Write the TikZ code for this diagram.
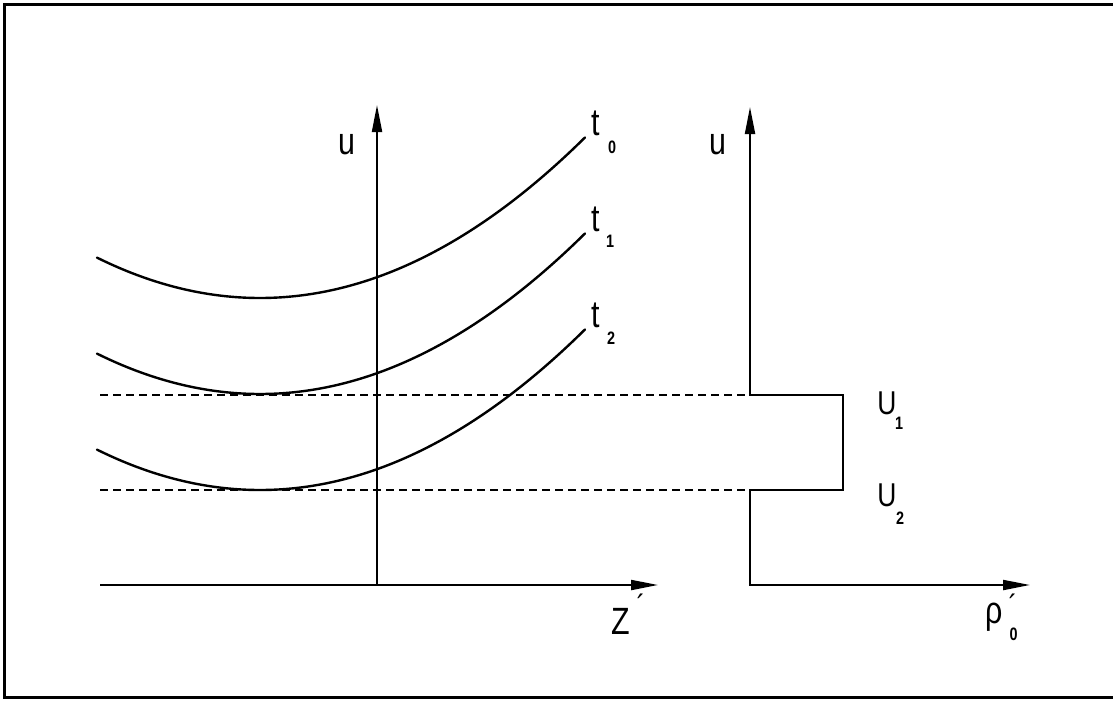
\documentclass[tikz,border=0pt]{standalone}
\usepackage{fontspec}
\setmainfont{Liberation Sans}[FakeStretch=0.8]
\usetikzlibrary{arrows.meta}
\tikzset{
  axis/.style={line width=2pt, line join=miter},
  curve/.style={line width=2.4pt, line cap=round},
  dashline/.style={line width=2pt, dash pattern=on 8pt off 5pt},
  framel/.style={line width=3pt},
  lbl/.style={inner sep=0pt, anchor=center},
  biglbl/.style={lbl, font=\fontsize{38}{38}\selectfont},
  caplbl/.style={lbl, font=\fontsize{33}{33}\selectfont},
  primelbl/.style={inner sep=0pt, anchor=north, font=\fontsize{32}{32}\selectfont},
  sublbl/.style={lbl, font=\bfseries\fontsize{18}{18}\selectfont},
}
\newcommand{\primemark}{{\fontsize{32}{32}\selectfont ´}}
\newcommand{\subzero}{{\bfseries\fontsize{18}{18}\selectfont 0}}
\begin{document}
\begin{tikzpicture}[x=1pt,y=-1pt]
\useasboundingbox (0,0) rectangle (1113,701);
% frame
\draw[framel] (1113,5) -- (4,5) -- (4,697) -- (1113,697);
% coordinates
\coordinate (Lorig) at (377,585);
\coordinate (Ltop) at (377,105);
\coordinate (Lleft) at (100,585);
\coordinate (Lright) at (658,585);
\coordinate (Rtop) at (750,107);
\coordinate (RU1) at (750,395);
\coordinate (RU1r) at (843,395);
\coordinate (RU2r) at (843,490);
\coordinate (RU2) at (750,490);
\coordinate (Rorig) at (750,585);
\coordinate (Rright) at (1030,585);
\coordinate (D1s) at (100,395);
\coordinate (D1e) at (745,395);
\coordinate (D2s) at (100,490);
\coordinate (D2e) at (745,490);
% left axes
\draw[axis, -{Triangle[length=27pt,width=10pt]}] (Lorig) -- (Ltop);
\draw[axis, -{Triangle[length=27pt,width=10pt]}] (Lleft) -- (Lright);
% right profile
\draw[axis, {Triangle[length=27pt,width=10pt]}-{Triangle[length=27pt,width=10pt]}]
  (Rtop) -- (RU1) -- (RU1r) -- (RU2r) -- (RU2) -- (Rorig) -- (Rright);
% dashed levels
\draw[dashline] (D1s) -- (D1e);
\draw[dashline] (D2s) -- (D2e);
% curves
\draw[curve] plot[domain=97:585, samples=80, smooth] (\x, {298 - 15.2*((\x-260)/100)^2});
\draw[curve] plot[domain=97:585, samples=80, smooth] (\x, {394 - 15.2*((\x-260)/100)^2});
\draw[curve] plot[domain=97:585, samples=80, smooth] (\x, {490 - 15.2*((\x-260)/100)^2});
% labels
\node[biglbl] (uL) at (347,145) {u};
\node[biglbl] (uR) at (718,145) {u};
\node[biglbl] (t0) at (596,123) {t};
\node[sublbl] (s0) at (612,147) {0};
\node[biglbl] (t1) at (596,219) {t};
\node[sublbl] (s1) at (610,241) {1};
\node[biglbl] (t2) at (596,315) {t};
\node[sublbl] (s2) at (611,338) {2};
\node[caplbl] (U1) at (887,403) {U};
\node[sublbl] (u1s) at (899,423) {1};
\node[caplbl] (U2) at (887,495) {U};
\node[sublbl] (u2s) at (900,518) {2};
\node[biglbl] (Z) at (621,621) {Z};
\node[primelbl] (Zp) at (641,594) {´};
\node[inner sep=0pt, anchor=base west, font=\fontsize{38}{38}\selectfont] (rho) at (985,623)
  {ρ\rlap{\hspace{6pt}\raisebox{6pt}{\primemark}}\rlap{\hspace{7pt}\raisebox{-17pt}{\subzero}}};
\end{tikzpicture}
\end{document}
